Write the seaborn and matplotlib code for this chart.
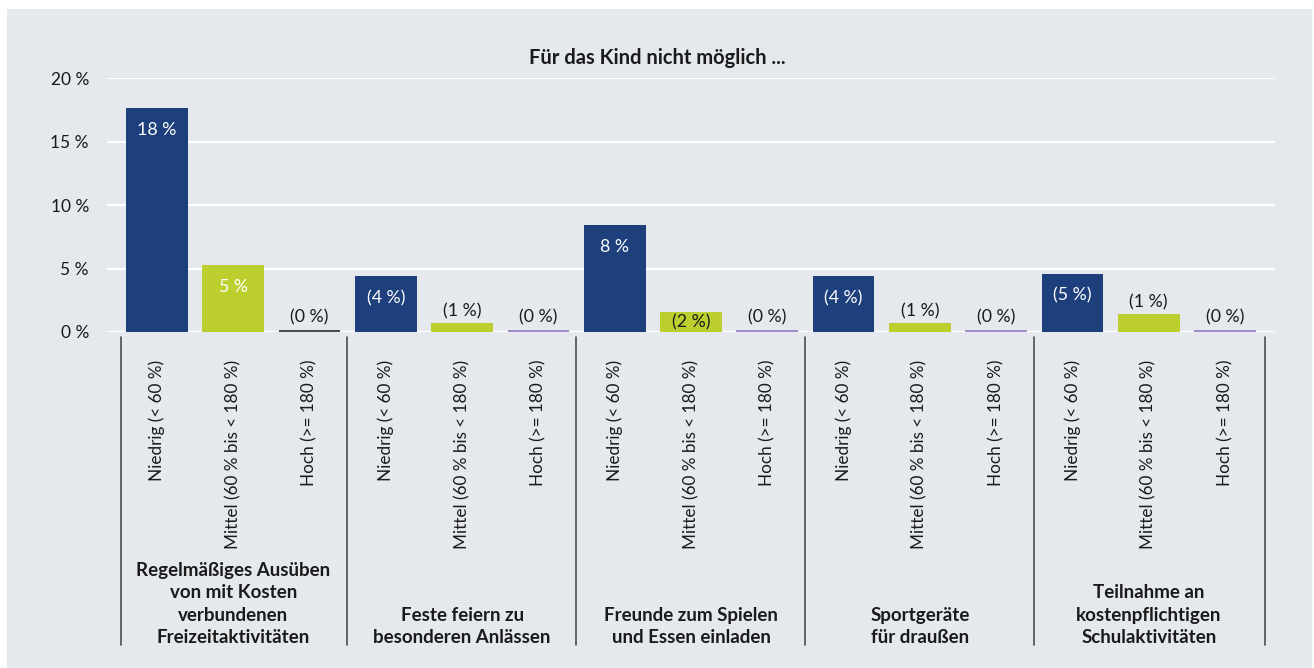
import matplotlib
matplotlib.use("Agg")
import matplotlib.pyplot as plt
import matplotlib.transforms as mtransforms
from matplotlib.patches import Rectangle
from matplotlib.lines import Line2D
import seaborn as sns
import pandas as pd

# ---------------- data ----------------
groups = [
    "Regelmäßiges Ausüben\nvon mit Kosten\nverbundenen\nFreizeitaktivitäten",
    "Feste feiern zu\nbesonderen Anlässen",
    "Freunde zum Spielen\nund Essen einladen",
    "Sportgeräte\nfür draußen",
    "Teilnahme an\nkostenpflichtigen\nSchulaktivitäten",
]
levels = ["Niedrig (< 60 %)", "Mittel (60 % bis < 180 %)", "Hoch (>= 180 %)"]
niedrig = [17.6, 4.4, 8.4, 4.4, 4.6]
mittel = [5.3, 0.7, 1.6, 0.7, 1.4]
hoch = [0.15, 0.15, 0.15, 0.15, 0.15]
value_labels = [
    "18 %", "5 %", "(0 %)",
    "(4 %)", "(1 %)", "(0 %)",
    "8 %", "(2 %)", "(0 %)",
    "(4 %)", "(1 %)", "(0 %)",
    "(5 %)", "(1 %)", "(0 %)",
]
yticks = [0, 5, 10, 15, 20]
ytick_labels = ["0 %", "5 %", "10 %", "15 %", "20 %"]
title = "Für das Kind nicht möglich ..."

# ---------------- styling ----------------
BG = "#e5e9ee"
BLUE = "#1d3f7b"
GREEN = "#bccf2f"
PURPLE = "#a48dc6"
GRAY = "#4d4d4d"
TXT = "#1a1a1a"

rows = []
for gi, g in enumerate(groups):
    for li, (lv, arr) in enumerate(zip(levels, [niedrig, mittel, hoch])):
        rows.append({"bar": f"{gi}-{li}", "level": lv, "group": gi, "value": arr[gi]})
df = pd.DataFrame(rows)

colors = []
for _, r in df.iterrows():
    if r["level"] == levels[0]:
        colors.append(BLUE)
    elif r["level"] == levels[1]:
        colors.append(GREEN)
    else:
        colors.append(GRAY if r["group"] == 0 else PURPLE)

sns.set_theme(style="white")
plt.rcParams["font.family"] = ["Lato", "DejaVu Sans"]

W, H = 1314, 668
fig = plt.figure(figsize=(W / 100, H / 100), dpi=100, facecolor="white")
fig.patches.append(Rectangle((7 / W, 0), (1312 - 7) / W, 1 - 9 / H,
                             transform=fig.transFigure, facecolor=BG,
                             edgecolor="none", zorder=-10))

left, right, top, bottom = 107, 1275, 78, 332
ax = fig.add_axes([left / W, 1 - bottom / H, (right - left) / W, (bottom - top) / H])
ax.set_facecolor("none")

sns.barplot(data=df, x="bar", y="value", hue="bar", palette=colors,
            legend=False, width=0.81, ax=ax, saturation=1, zorder=3,
            linewidth=0, edgecolor="none")

ax.set_ylim(0, 20)
ax.set_xlim(-0.655, 14.655)
ax.set_yticks(yticks)
ax.set_yticklabels(ytick_labels, fontsize=12.5, color=TXT)
ax.yaxis.grid(True, color="white", linewidth=1.6, zorder=0)
ax.set_axisbelow(True)
for s in ax.spines.values():
    s.set_visible(False)
ax.tick_params(axis="y", length=0, pad=13)
ax.set_xticks(range(len(df)))
ax.set_xticklabels([levels[i % 3] for i in range(len(df))], rotation=90,
                   fontsize=12.3, color=TXT, va="top", ha="center")
ax.tick_params(axis="x", length=0, pad=20)
ax.set_xlabel("")
ax.set_ylabel("")

# value labels
px_per_unit = (bottom - top) / 20
for i, (v, lab, c) in enumerate(zip(df["value"], value_labels, colors)):
    hpx = v * px_per_unit
    if v >= 1.5:
        off = -min(22, hpx - 10)
        tcol = "white" if c == BLUE or v > 3 else TXT
        ax.annotate(lab, (i, v), xytext=(0, off * 0.72), textcoords="offset points",
                    ha="center", va="center", fontsize=12.8, color=tcol, zorder=5)
    else:
        ax.annotate(lab, (i, v), xytext=(0, 3), textcoords="offset points",
                    ha="center", va="bottom", fontsize=12.8, color=TXT, zorder=5)

# group separators and labels
blend = mtransforms.blended_transform_factory(ax.transData, fig.transFigure)
for k in range(len(groups) + 1):
    x = -0.5 + 3 * k + (0.03 if k == len(groups) else 0.03 if k == 0 else -0.01)
    fig.lines.append(Line2D([x, x], [1 - 337 / H, 1 - 645 / H], transform=blend,
                            color=GRAY, linewidth=1.2))
for gi, g in enumerate(groups):
    fig.text(3 * gi + 1, 1 - 646 / H, g, transform=blend,
             ha="center", va="bottom", fontsize=13.5, fontweight="bold",
             color=TXT, linespacing=1.38, multialignment="center")

fig.text(657 / W, 1 - 58 / H, title, ha="center", va="center", fontsize=14.5,
         fontweight="bold", color=TXT)

fig.savefig("out.png", dpi=100, facecolor="white")
